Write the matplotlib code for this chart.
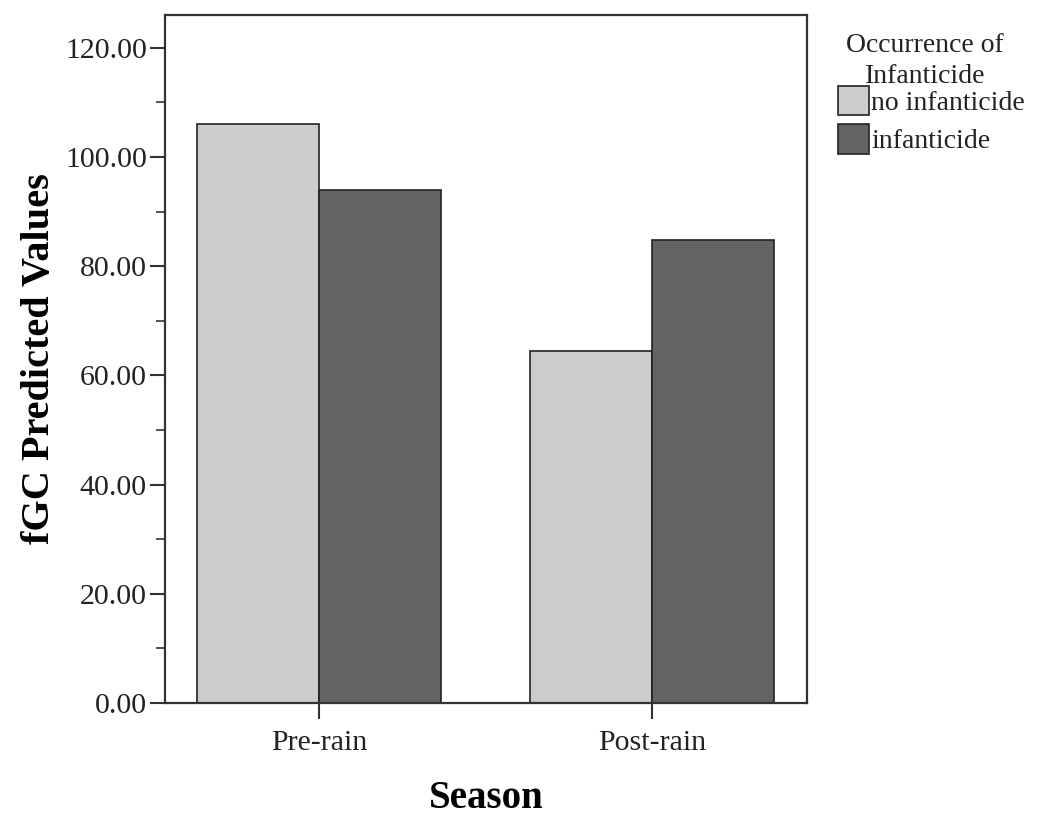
import matplotlib
matplotlib.use("Agg")
import matplotlib.pyplot as plt
import numpy as np
from matplotlib.patches import Patch
from matplotlib.ticker import MultipleLocator, FormatStrFormatter

plt.rcParams['font.family'] = ['Liberation Serif', 'DejaVu Serif']

seasons = ["Pre-rain", "Post-rain"]
groups = ["no infanticide", "infanticide"]
no_inf = [106.0, 64.4]
inf = [93.9, 84.8]
colors = ["#cccccc", "#646464"]

fig = plt.figure(figsize=(10.37, 8.15), dpi=100)
ax = fig.add_axes([0.159, 0.1374, 0.619, 0.8442])

x = np.arange(len(seasons))
w = 0.366
ax.bar(x - w/2, no_inf, w, color=colors[0], edgecolor="#222222", linewidth=1.2, label=groups[0])
ax.bar(x + w/2, inf, w, color=colors[1], edgecolor="#222222", linewidth=1.2, label=groups[1])

ax.set_xlim(-0.4625, 1.4655)
ax.set_ylim(0, 126)
ax.set_xticks(x)
ax.set_xticklabels(seasons)
ax.yaxis.set_major_locator(MultipleLocator(20))
ax.yaxis.set_minor_locator(MultipleLocator(10))
ax.yaxis.set_major_formatter(FormatStrFormatter("%.2f"))
ax.tick_params(axis='y', which='major', length=11, width=1.5, pad=2, labelsize=21.5, colors="#333333", labelcolor="#222222")
ax.tick_params(axis='y', which='minor', length=6.5, width=1.2, colors="#333333")
ax.tick_params(axis='x', which='major', length=11.5, width=1.5, pad=8, labelsize=21.5, colors="#333333", labelcolor="#222222")
for s in ax.spines.values():
    s.set_linewidth(1.6)
    s.set_color("#333333")

ax.set_xlabel("Season", fontsize=28, fontweight='bold', labelpad=17)
ax.set_ylabel("fGC Predicted Values", fontsize=29, fontweight='bold', labelpad=5)

handles = [Patch(facecolor=colors[0], edgecolor="#222222", linewidth=1.2, label=groups[0]),
           Patch(facecolor=colors[1], edgecolor="#222222", linewidth=1.2, label=groups[1])]
fig.text(925/1037, 1 - 61/815, "Occurrence of\nInfanticide", ha="center", va="center",
         fontsize=20, color="#222222", multialignment="center", linespacing=1.3)
leg = fig.legend(handles=handles, loc="upper left",
                 bbox_to_anchor=(838/1037, 1 - 86/815), frameon=False, fontsize=20,
                 handlelength=1.1, handleheight=1.25, handletextpad=0.1, labelspacing=0.3,
                 borderaxespad=0, borderpad=0)
for t in leg.get_texts():
    t.set_color("#222222")

fig.savefig("out.png", dpi=100)
